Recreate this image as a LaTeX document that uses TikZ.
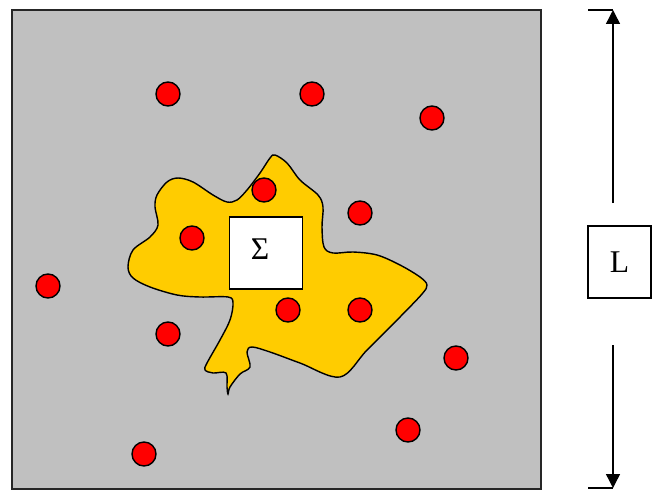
\documentclass[tikz,border=0pt]{standalone}
\usepackage{fontspec}
\setmainfont{Liberation Serif}
\usetikzlibrary{arrows.meta, positioning}
\definecolor{domGray}{RGB}{192,192,192}
\definecolor{domYellow}{RGB}{255,204,0}
\definecolor{domRed}{RGB}{255,0,0}
\tikzset{
    >=Latex,
    font=\fontsize{18}{21}\selectfont,
    fig_domain/.style={
        draw=black!85,
        fill=domGray,
        line width=0.9pt
    },
    fig_cluster/.style={
        draw=black,
        fill=domYellow,
        line width=0.8pt
    },
    fig_dot/.style={
        circle,
        draw=black,
        fill=domRed,
        line width=0.8pt,
        minimum size=0.48cm,
        inner sep=0pt
    },
    fig_box/.style={
        rectangle,
        draw=black,
        fill=white,
        line width=0.8pt,
        minimum width=1.46cm,
        minimum height=1.44cm,
        inner sep=0pt,
        align=center
    },
    fig_arrow/.style={
        -{Triangle[length=0.28cm, width=0.28cm]},
        line width=0.8pt
    },
    fig_tick/.style={
        line width=0.8pt
    }
}

\begin{document}
\begin{tikzpicture}[x=0.02cm, y=-0.02cm]
\useasboundingbox (0,0) rectangle (652,490);

% --- Domain ---
\draw[fig_domain] (12,10) rectangle (541,489);

% --- Cluster ---
\draw[fig_cluster] plot[smooth cycle, tension=0.55] coordinates {
    (275,155) (287,163) (300,180) (318,195) (323,207) (322,227) (324,247)
    (333,253) (353,252) (377,255) (400,265) (420,277) (427,285) (422,294)
    (400,317) (367,350) (340,377) (300,363) (270,352) (252,347) (247,352)
    (250,367) (240,374) (230,387) (228,394) (227,387) (226,373) (213,373)
    (205,370) (207,363) (220,340) (230,320) (233,303) (228,297) (200,297)
    (177,295) (150,287) (133,278) (128,267) (133,250) (150,237) (158,225)
    (155,207) (157,195) (167,182) (178,178) (193,182) (213,195) (227,202)
    (237,200) (247,190) (260,173) (270,158)
};

% --- Surface ---
\node[fig_box] (Sigma) at (266,253) {};
\node (SigmaLabel) at (260,249) {Σ};

% --- Particles ---
\node[fig_dot] (P1) at (168,94) {};
\node[fig_dot] (P2) at (312,94) {};
\node[fig_dot] (P3) at (432,118) {};
\node[fig_dot] (P4) at (264,190) {};
\node[fig_dot] (P5) at (360,213) {};
\node[fig_dot] (P6) at (192,238) {};
\node[fig_dot] (P7) at (48,286) {};
\node[fig_dot] (P8) at (288,310) {};
\node[fig_dot] (P9) at (360,310) {};
\node[fig_dot] (P10) at (168,334) {};
\node[fig_dot] (P11) at (456,358) {};
\node[fig_dot] (P12) at (408,430) {};
\node[fig_dot] (P13) at (144,454) {};

% --- Dimension ---
\node[fig_box, minimum width=1.26cm] (Lbox) at (619.5,262) {L};
\coordinate (DimTop) at (613,10);
\coordinate (DimBot) at (613,488);
\coordinate (TickTop) at (588,10);
\coordinate (TickBot) at (588,488);
\coordinate (GapTop) at (613,203);
\coordinate (GapBot) at (613,345);

% --- Edges ---
\draw[fig_arrow] (GapTop) -- (DimTop);
\draw[fig_arrow] (GapBot) -- (DimBot);
\draw[fig_tick] (TickTop) -- (DimTop);
\draw[fig_tick] (TickBot) -- (DimBot);

\end{tikzpicture}
\end{document}
